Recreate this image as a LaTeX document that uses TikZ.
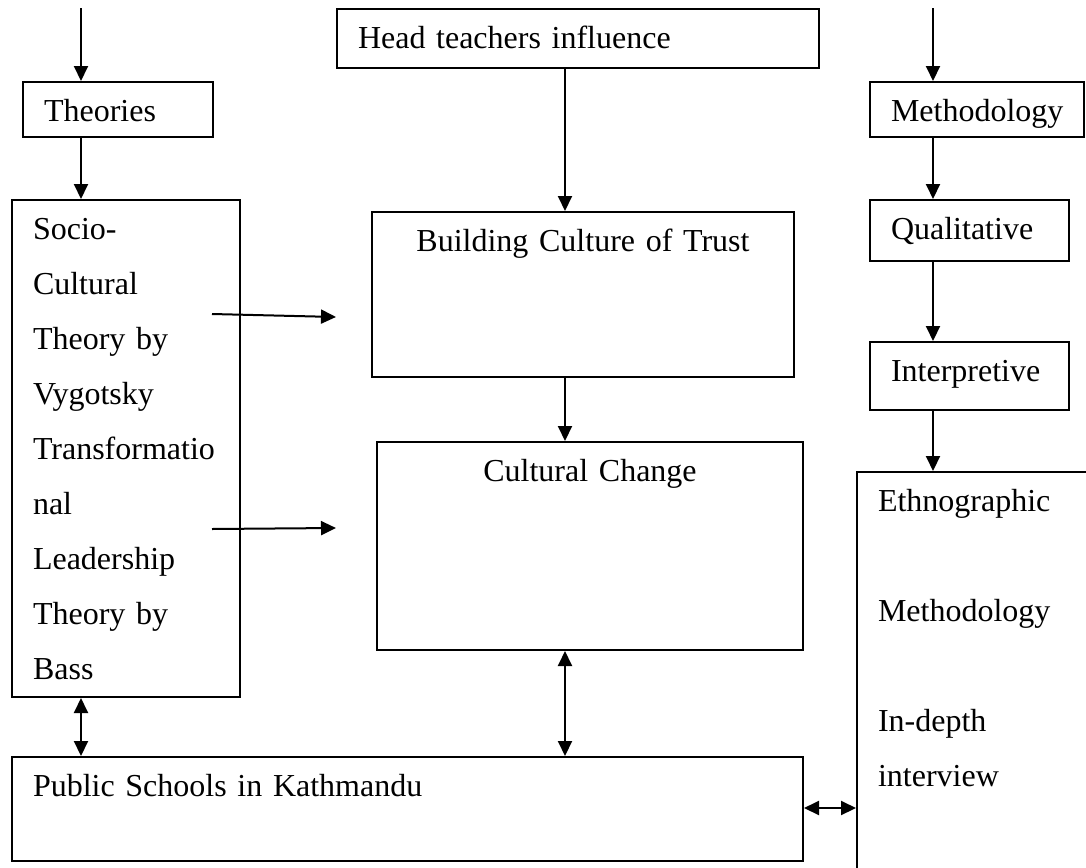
\documentclass[tikz,border=0pt]{standalone}
\usepackage{fontspec}
\setmainfont{Liberation Serif}
\usetikzlibrary{arrows.meta,positioning,calc}
\tikzset{box/.style={draw,line width=1pt,anchor=north west,inner xsep=10.5pt,
    inner ysep=0pt,font=\fontsize{16}{27.5}\selectfont,text height=19.5pt,align=left},
  midbox/.style={box,align=center},
  edge/.style={-{Triangle[length=7.5pt,width=7pt]},line width=1pt},
  twoway/.style={{Triangle[length=7.5pt,width=7pt]}-{Triangle[length=7.5pt,width=7pt]},
    line width=1pt}}

\begin{document}
\begin{tikzpicture}[x=0.5pt,y=-0.5pt]
  \clip (0,0) rectangle (1086,867);
  % left column: theories
  \node[box,text width=74pt,text depth=8pt] (theories) at (22,81) {Theories};
  \node[box,text width=93pt,text depth=229pt] (socio) at (11,199)
    {Socio-\\Cultural\\Theory by\\Vygotsky\\Transformatio\\nal\\Leadership\\Theory by\\Bass};
  % middle column
  \node[box,text width=220pt,text depth=10pt] (head) at (336,8) {Head teachers influence};
  \node[midbox,text width=190pt,text depth=63pt] (trust) at (371,211) {Building Culture of Trust};
  \node[midbox,text width=192pt,text depth=84.5pt] (change) at (376,441) {Cultural Change};
  \node[box,text width=374.5pt,text depth=32.5pt] (schools) at (11,756) {Public Schools in Kathmandu};
  % right column: methodology
  \node[box,text width=86pt,text depth=8pt] (method) at (869,81) {Methodology};
  \node[box,text width=78.5pt,text depth=11pt] (qual) at (869,199) {Qualitative};
  \node[box,text width=78.5pt,text depth=14.5pt] (interp) at (869,341) {Interpretive};
  \node[box,text width=99pt,text depth=190.5pt] (ethno) at (856,471)
    {Ethnographic\\[27.5pt]Methodology\\[27.5pt]In-depth\\interview};

  \coordinate (colL) at (81,8);
  \coordinate (colM) at (565,8);
  \coordinate (colR) at (933,8);
  \coordinate (feedA) at (212,314);
  \coordinate (feedAend) at (336,317);
  \coordinate (feedB) at (212,529);
  \coordinate (feedBend) at (336,528);

  \draw[edge] (colL) -- (theories.north -| colL);
  \draw[edge] (theories.south -| colL) -- (socio.north -| colL);
  \draw[twoway] (socio.south -| colL) -- (schools.north -| colL);
  \draw[edge] (feedA) -- (feedAend);
  \draw[edge] (feedB) -- (feedBend);

  \draw[edge] (head.south -| colM) -- (trust.north -| colM);
  \draw[edge] (trust.south -| colM) -- (change.north -| colM);
  \draw[twoway] (change.south -| colM) -- (schools.north -| colM);

  \draw[edge] (colR) -- (method.north -| colR);
  \draw[edge] (method.south -| colR) -- (qual.north -| colR);
  \draw[edge] (qual.south -| colR) -- (interp.north -| colR);
  \draw[edge] (interp.south -| colR) -- (ethno.north -| colR);
  \draw[twoway] (schools.east |- 0,808) -- (ethno.west |- 0,808);
\end{tikzpicture}
\end{document}
